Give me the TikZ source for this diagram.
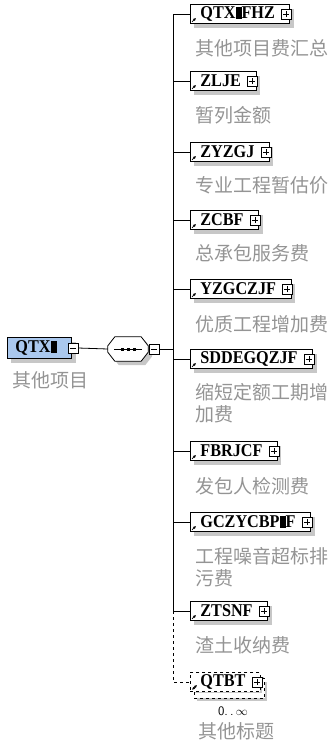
\documentclass[tikz,border=0pt]{standalone}
\usepackage{fontspec}
\setmainfont{Liberation Serif}
\newfontfamily\elemfont{Liberation Serif}[FakeStretch=0.9]
\newfontfamily\cjk{Noto Sans CJK SC}
\usetikzlibrary{shadows,arrows.meta}

\newcommand{\mblk}{\rule{6pt}{12pt}}

\begin{document}
\begin{tikzpicture}[x=1pt,y=-1pt,
  line/.style={line width=0.8pt},
  shade/.style={drop shadow={shadow xshift=4pt,shadow yshift=-4pt,fill=black!22,opacity=1}},
  elem/.style={draw,line width=0.8pt,fill=white,anchor=west,minimum height=19pt,inner sep=0pt,font=\elemfont\bfseries\fontsize{18}{20}\selectfont,shade},
  pm/.style={draw,line width=0.6pt,fill=white,minimum size=10pt,inner sep=0pt},
  plusbox/.style={pm,path picture={\draw[line width=0.6pt] (path picture bounding box.center) ++(-3pt,0) -- ++(6pt,0) (path picture bounding box.center) ++(0,-3pt) -- ++(0,6pt);}},
  minusbox/.style={pm,path picture={\draw[line width=0.6pt] (path picture bounding box.center) ++(-3pt,0) -- ++(6pt,0);}},
  lbl/.style={anchor=west,inner sep=0pt,text=black!42,align=left,font=\cjk\fontsize{19}{22}\selectfont},
  ref/.style={line width=0.6pt,-{Latex[length=3pt,width=3pt]}}
]
\useasboundingbox (0,0) rectangle (332,742);

% Root
\node[elem,fill={rgb,255:red,170;green,200;blue,238},minimum height=21pt] (qtx) at (7,348) {\kern8pt QTX\mblk\kern15pt};
\node[minusbox] (qtx-m) at ([xshift=1pt]qtx.east) {};
\node[lbl] (qtx-l) at (12,380) {其他项目};

% Sequence
\node[minimum width=40pt,minimum height=24pt,inner sep=0pt] (seq) at (128,349) {};
\draw[line,fill=white,shade] ([xshift=7pt]seq.north west) -- ([xshift=-7pt]seq.north east)
  -- ([yshift=-9pt]seq.north east) -- ([yshift=9pt]seq.south east)
  -- ([xshift=-7pt]seq.south east) -- ([xshift=7pt]seq.south west)
  -- ([yshift=9pt]seq.south west) -- ([yshift=-9pt]seq.north west) -- cycle;
\node[minusbox] (seq-m) at ([xshift=6pt]seq.east) {};
\draw[line] ([xshift=-14pt]seq.center) -- ([xshift=14pt]seq.center);
\fill ([xshift=-6pt]seq.center) +(-1.5pt,-1.5pt) rectangle +(1.5pt,1.5pt);
\fill (seq.center) +(-1.5pt,-1.5pt) rectangle +(1.5pt,1.5pt);
\fill ([xshift=6pt]seq.center) +(-1.5pt,-1.5pt) rectangle +(1.5pt,1.5pt);
\coordinate (bus) at (173,349);
\draw[line] (qtx-m.east) -- (seq.west);
\draw[line] (seq-m.east) -- (bus);

% Children
\node[elem] (qtxfhz) at (190,14) {\kern10pt QTX\mblk FHZ\kern15pt};
\node[plusbox] (qtxfhz-p) at ([xshift=-4pt]qtxfhz.east) {};
\draw[ref] ([shift={(2pt,2pt)}]qtxfhz.south west) -- ++(4pt,4pt);
\node[lbl] (qtxfhz-l) at (195,48) {其他项目费汇总};

\node[elem] (zlje) at (190,81) {\kern10pt ZLJE\kern15pt};
\node[plusbox] (zlje-p) at ([xshift=-4pt]zlje.east) {};
\draw[ref] ([shift={(2pt,2pt)}]zlje.south west) -- ++(4pt,4pt);
\node[lbl] (zlje-l) at (195,115) {暂列金额};

\node[elem] (zyzgj) at (190,152) {\kern10pt ZYZGJ\kern15pt};
\node[plusbox] (zyzgj-p) at ([xshift=-4pt]zyzgj.east) {};
\draw[ref] ([shift={(2pt,2pt)}]zyzgj.south west) -- ++(4pt,4pt);
\node[lbl] (zyzgj-l) at (195,185) {专业工程暂估价};

\node[elem] (zcbf) at (190,220) {\kern10pt ZCBF\kern15pt};
\node[plusbox] (zcbf-p) at ([xshift=-4pt]zcbf.east) {};
\draw[ref] ([shift={(2pt,2pt)}]zcbf.south west) -- ++(4pt,4pt);
\node[lbl] (zcbf-l) at (195,253) {总承包服务费};

\node[elem] (yzgczjf) at (190,289) {\kern10pt YZGCZJF\kern15pt};
\node[plusbox] (yzgczjf-p) at ([xshift=-4pt]yzgczjf.east) {};
\draw[ref] ([shift={(2pt,2pt)}]yzgczjf.south west) -- ++(4pt,4pt);
\node[lbl] (yzgczjf-l) at (195,324) {优质工程增加费};

\node[elem] (sddegqzjf) at (190,359) {\kern10pt SDDEGQZJF\kern15pt};
\node[plusbox] (sddegqzjf-p) at ([xshift=-4pt]sddegqzjf.east) {};
\draw[ref] ([shift={(2pt,2pt)}]sddegqzjf.south west) -- ++(4pt,4pt);
\node[lbl,anchor=north west] (sddegqzjf-l) at (195,383) {缩短定额工期增\\加费};

\node[elem] (fbrjcf) at (190,451) {\kern10pt FBRJCF\kern15pt};
\node[plusbox] (fbrjcf-p) at ([xshift=-4pt]fbrjcf.east) {};
\draw[ref] ([shift={(2pt,2pt)}]fbrjcf.south west) -- ++(4pt,4pt);
\node[lbl] (fbrjcf-l) at (195,486) {发包人检测费};

\node[elem] (gczycbpf) at (190,522) {\kern10pt GCZYCBP\mblk F\kern15pt};
\node[plusbox] (gczycbpf-p) at ([xshift=-4pt]gczycbpf.east) {};
\draw[ref] ([shift={(2pt,2pt)}]gczycbpf.south west) -- ++(4pt,4pt);
\node[lbl,anchor=north west] (gczycbpf-l) at (195,547) {工程噪音超标排\\污费};

\node[elem] (ztsnf) at (190,611) {\kern10pt ZTSNF\kern15pt};
\node[plusbox] (ztsnf-p) at ([xshift=-4pt]ztsnf.east) {};
\draw[ref] ([shift={(2pt,2pt)}]ztsnf.south west) -- ++(4pt,4pt);
\node[lbl] (ztsnf-l) at (195,645) {渣土收纳费};

% Optional, repeated
\node[elem,dashed,drop shadow={shadow xshift=7pt,shadow yshift=-9pt,fill=black!22,opacity=1}] (qtbt) at (190,682) {\kern10pt QTBT\kern15pt};
\fill[white] ([shift={(4pt,-6pt)}]qtbt.south west) rectangle ([shift={(4pt,-1pt)}]qtbt.south east);
\fill[white] ([shift={(1pt,-6pt)}]qtbt.north east) rectangle ([shift={(4pt,-6pt)}]qtbt.south east);
\draw[line,dashed] ([shift={(4pt,0pt)}]qtbt.south west) -- ([shift={(4pt,-6pt)}]qtbt.south west)
  -- ([shift={(4pt,-6pt)}]qtbt.south east) -- ([shift={(4pt,-6pt)}]qtbt.north east) -- ([yshift=-6pt]qtbt.north east);
\node[plusbox] (qtbt-p) at ([xshift=-4pt]qtbt.east) {};
\draw[line width=0.6pt,{Latex[length=3pt,width=3pt]}-{Latex[length=3pt,width=3pt]}] ([shift={(2pt,2pt)}]qtbt.south west) -- ++(5pt,5pt);
\node[font=\sffamily\fontsize{13}{15}\selectfont,inner sep=0pt] (qtbt-n) at (233,711) {0.\,.\,$\infty$};
\node[lbl] (qtbt-l) at (198,731) {其他标题};

% Connectors
\draw[line] (bus |- qtxfhz) -- (bus |- ztsnf);
\draw[line] (bus |- qtxfhz) -- (qtxfhz);
\draw[line] (bus |- zlje) -- (zlje);
\draw[line] (bus |- zyzgj) -- (zyzgj);
\draw[line] (bus |- zcbf) -- (zcbf);
\draw[line] (bus |- yzgczjf) -- (yzgczjf);
\draw[line] (bus |- sddegqzjf) -- (sddegqzjf);
\draw[line] (bus |- fbrjcf) -- (fbrjcf);
\draw[line] (bus |- gczycbpf) -- (gczycbpf);
\draw[line] (bus |- ztsnf) -- (ztsnf);
\draw[line,dashed] (bus |- ztsnf) -- (bus |- qtbt) -- (qtbt);
\end{tikzpicture}
\end{document}
